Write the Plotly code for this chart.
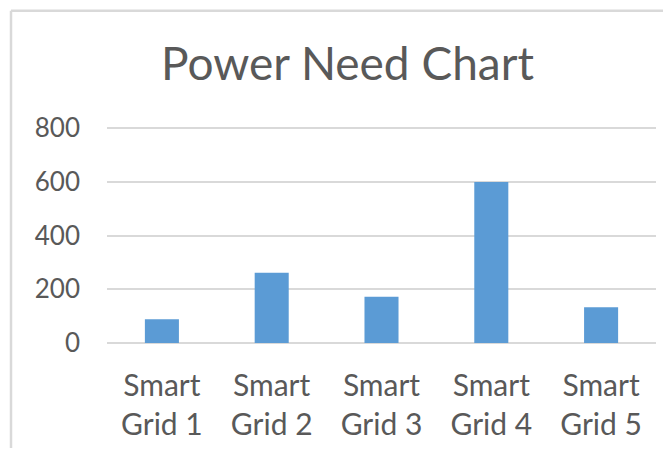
import plotly.graph_objects as go

categories = ["Smart Grid 1", "Smart Grid 2", "Smart Grid 3", "Smart Grid 4", "Smart Grid 5"]
tick_labels = ["Smart<br>Grid 1", "Smart<br>Grid 2", "Smart<br>Grid 3", "Smart<br>Grid 4", "Smart<br>Grid 5"]
power_need = [88, 262, 172, 600, 133]
y_ticks = [0, 200, 400, 600, 800]

TEXT = "#595959"
GRID = "#D9D9D9"
FONT = "Lato, 'Open Sans', sans-serif"

fig = go.Figure(go.Bar(
    x=categories, y=power_need,
    marker=dict(color="#5B9BD5", line=dict(width=0)),
    width=0.31,
))

# page body has an 8px margin; work in window pixels and convert
OFF = 8
W, H = 671 - OFF, 456 - 2 * OFF
Y_TOP = 812
plot_left, plot_right = 107, 656
plot_bottom = 343
plot_top = 343 - 215 * Y_TOP / 800
L = plot_left - OFF
R = W - (plot_right - OFF)
T = plot_top - OFF
B = H - (plot_bottom - OFF)
pw, ph = plot_right - plot_left, plot_bottom - plot_top

def px_x(p):
    return (p - plot_left) / pw

def px_y(p):
    return (plot_bottom - p) / ph

fig.update_layout(
    width=W, height=H,
    margin=dict(l=L, r=R, t=T, b=B, autoexpand=False),
    paper_bgcolor="white", plot_bgcolor="white",
    showlegend=False,
    title=dict(text="Power Need Chart", x=(347.5 - OFF) / W, xanchor="center",
               y=1 - (63.5 - OFF) / H, yanchor="middle", yref="container",
               font=dict(family=FONT, size=46, color=TEXT)),
    font=dict(family=FONT, color=TEXT),
    xaxis=dict(tickvals=categories, ticktext=tick_labels, showgrid=False,
               showline=False, zeroline=False, ticks="",
               tickfont=dict(size=30, color=TEXT), ticklabelstandoff=22),
    yaxis=dict(range=[0, Y_TOP], tickvals=y_ticks, showgrid=True, gridcolor=GRID,
               gridwidth=1.5, zeroline=True, zerolinecolor=GRID, zerolinewidth=1.5,
               showline=False, ticks="", tickfont=dict(size=26, color=TEXT),
               ticklabelstandoff=26),
    shapes=[dict(type="line", xref="paper", yref="paper",
                 x0=px_x(11), x1=px_x(11), y0=px_y(10.5), y1=px_y(H + OFF),
                 line=dict(color=GRID, width=2.5), layer="above"),
            dict(type="line", xref="paper", yref="paper",
                 x0=px_x(11), x1=px_x(W + OFF), y0=px_y(10.5), y1=px_y(10.5),
                 line=dict(color=GRID, width=2.5), layer="above")],
)

fig.write_html("out.html", config={"displayModeBar": False})
